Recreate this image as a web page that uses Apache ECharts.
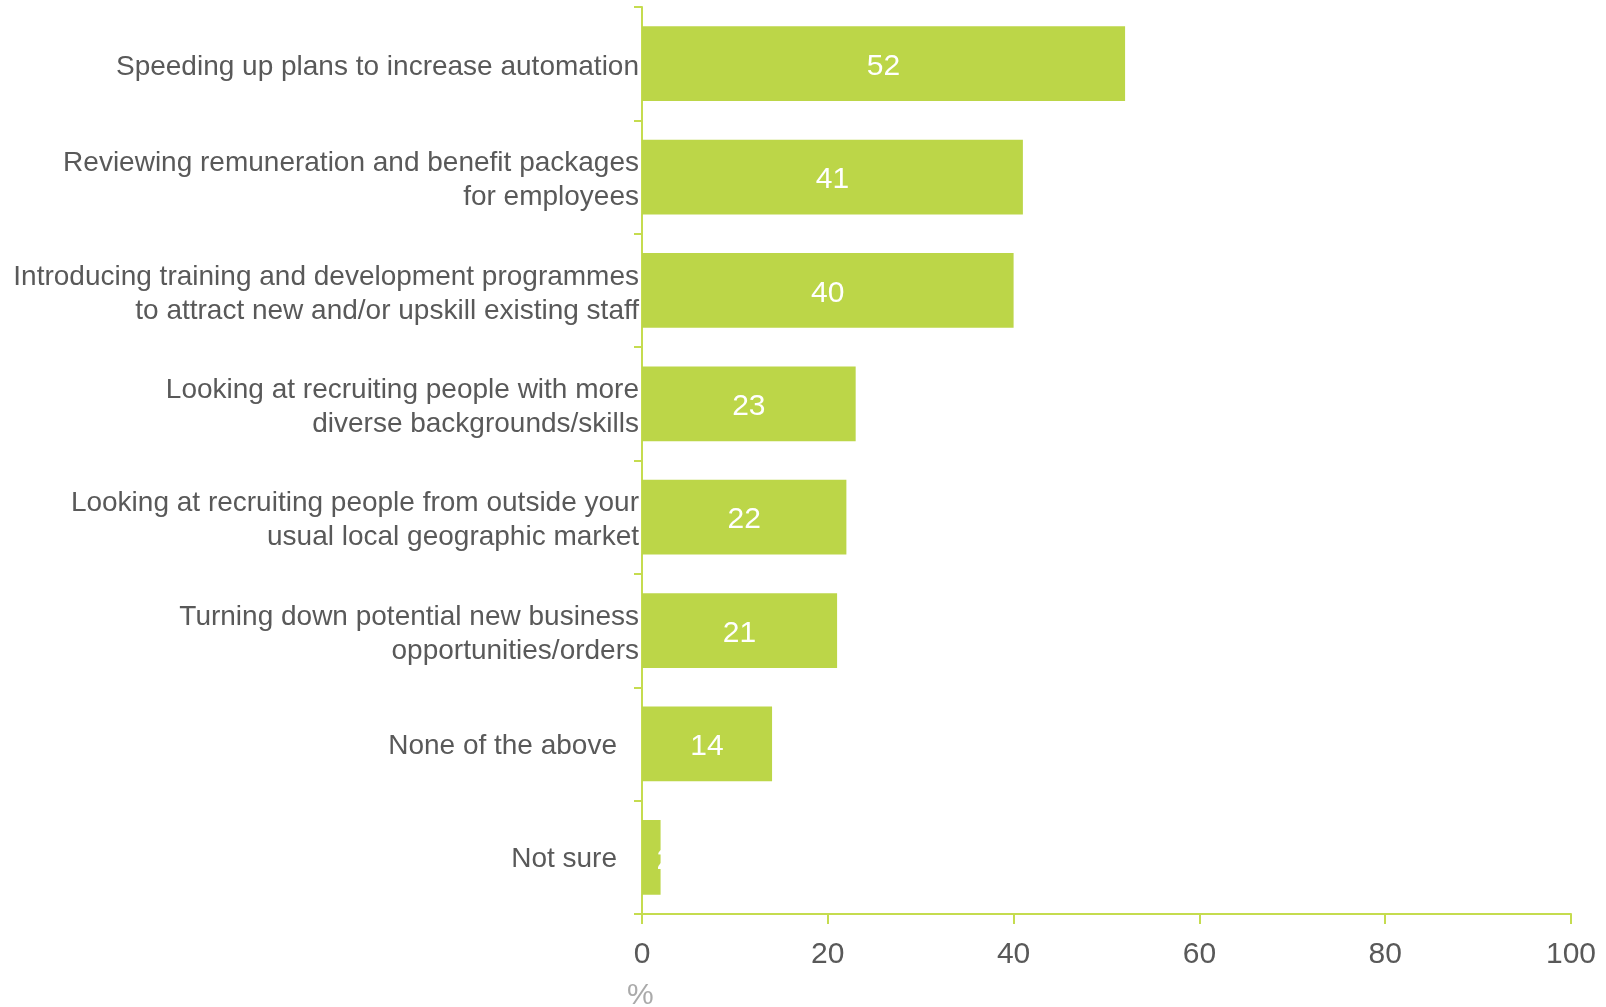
<!DOCTYPE html>
<html>
<head>
<meta charset="utf-8">
<script src="https://cdn.jsdelivr.net/npm/echarts@6/dist/echarts.min.js"></script>
<style>
html,body{margin:0;padding:0;background:#fff;}
#chart{width:1606px;height:1007px;}
</style>
</head>
<body>
<div id="chart"></div>
<script>
const categories = [
  "Speeding up plans to increase automation",
  "Reviewing remuneration and benefit packages\nfor employees",
  "Introducing training and development programmes\nto attract new and/or upskill existing staff",
  "Looking at recruiting people with more\ndiverse backgrounds/skills",
  "Looking at recruiting people from outside your\nusual local geographic market",
  "Turning down potential new business\nopportunities/orders",
  "None of the above",
  "Not sure"
];
const values = [52, 41, 40, 23, 22, 21, 14, 2];
const xTicks = [0, 20, 40, 60, 80, 100];
const indentedCategories = ["None of the above", "Not sure"];
const unitLabel = "%";

const FONT = "'Liberation Sans', Arial, sans-serif";
const AXIS = "#c5dc4f";
const BAR = "#bcd648";

const seriesData = values.map(function (v) {
  return v < 5 ? { value: v, label: { position: 'right', distance: -4, offset: [0, 3] } } : v;
});

const chart = echarts.init(document.getElementById('chart'));
chart.setOption({
  animation: false,
  backgroundColor: '#fff',
  grid: { left: 642, right: 35, top: 7, bottom: 93, containLabel: false },
  xAxis: {
    type: 'value',
    min: xTicks[0],
    max: xTicks[xTicks.length - 1],
    interval: xTicks[1] - xTicks[0],
    axisLine: { show: true, lineStyle: { color: AXIS, width: 2 } },
    axisTick: { show: true, length: 10, lineStyle: { color: AXIS, width: 2 } },
    splitLine: { show: false },
    axisLabel: { color: '#595959', fontSize: 30, fontFamily: FONT, margin: 26 }
  },
  yAxis: {
    type: 'category',
    inverse: true,
    data: categories,
    axisLine: { show: true, lineStyle: { color: AXIS, width: 2 } },
    axisTick: { show: true, length: 8, inside: false, lineStyle: { color: AXIS, width: 2 } },
    axisLabel: {
      margin: 3,
      color: '#595959',
      fontSize: 28,
      fontFamily: FONT,
      lineHeight: 34,
      padding: [7, 0, 0, 0],
      formatter: function (v) {
        return indentedCategories.indexOf(v) >= 0 ? '{ind|' + v + '}' : v;
      },
      rich: {
        ind: { color: '#595959', fontSize: 28, fontFamily: FONT, lineHeight: 34, padding: [0, 22, 3, 0] }
      }
    }
  },
  series: [{
    type: 'bar',
    data: seriesData,
    barCategoryGap: '34%',
    itemStyle: { color: BAR },
    label: {
      show: true,
      position: 'inside',
      color: '#fff',
      fontSize: 30,
      fontFamily: FONT,
      offset: [0, 3]
    }
  }],
  graphic: [{
    type: 'text',
    left: 627,
    top: 981,
    style: { text: unitLabel, fill: '#aaaaaa', fontSize: 30, fontFamily: FONT }
  }]
});
</script>
</body>
</html>
